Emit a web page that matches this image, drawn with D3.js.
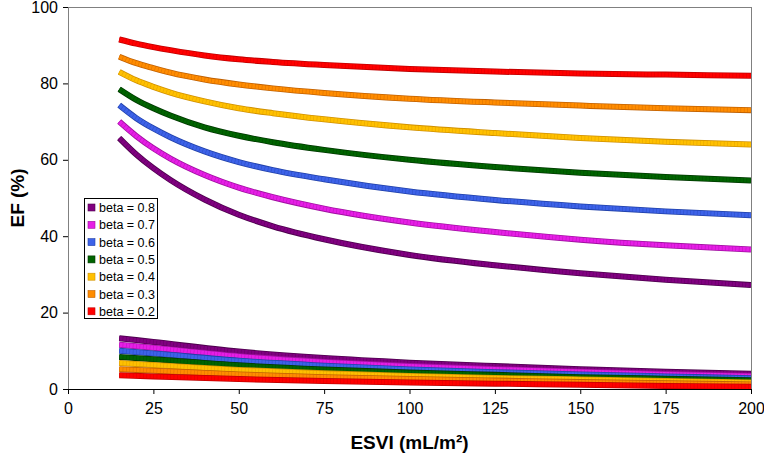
<!DOCTYPE html>
<html><head><meta charset="utf-8">
<script src="https://cdn.jsdelivr.net/npm/d3@7"></script>
<style>body{margin:0;background:#fff}svg{display:block}text{font-family:"Liberation Sans",Arial,sans-serif}</style>
</head><body><svg id="c" width="764" height="456"></svg>
<script>
const betas = ["0.8","0.7","0.6","0.5","0.4","0.3","0.2"];
const colors = ["#800080","#e61ee6","#3d62e8","#006400","#ffc000","#ff8c00","#ff0000"];
const edges  = ["#4d004d","#a010a0","#2040a8","#003800","#d09000","#c06000","#c00000"];
const xTicks = [0,25,50,75,100,125,150,175,200];
const yTicks = [0,20,40,60,80,100];
// upper curves: EF at ESVI samples
const esviUpper = [15,20,25,30,40,50,60,75,100,125,150,175,200];
const ef08 = [65.7,61.4,57.8,54.7,49.6,45.6,42.6,39.2,35.1,32.4,30.3,28.6,27.2];
const ef07 = [70.0,66.2,63.0,60.3,56.0,52.7,50.2,47.2,43.6,41.1,39.1,37.6,36.5];
const ef06 = [74.3,70.9,68.2,65.9,62.2,59.4,57.3,54.9,51.7,49.5,47.8,46.5,45.5];
const ef05 = [78.5,75.7,73.5,71.6,68.5,66.3,64.6,62.6,60.0,58.1,56.6,55.5,54.6];
const ef04 = [83.0,80.8,79.1,77.6,75.3,73.5,72.2,70.6,68.5,67.0,65.7,64.7,64.0];
const ef03 = [87.0,85.3,84.0,82.8,81.0,79.7,78.7,77.5,76.0,75.0,74.2,73.5,73.0];
const ef02 = [91.5,90.4,89.5,88.7,87.3,86.3,85.6,84.8,83.8,83.1,82.6,82.3,82.0];
// lower curves
const esviLower = [15,25,50,75,100,125,150,175,200];
const lo08 = [13.3,12.3,9.8,8.1,6.9,6.0,5.2,4.5,4.0];
const lo07 = [11.6,10.8,8.6,7.1,6.0,5.2,4.5,3.9,3.4];
const lo06 = [10.0,9.3,7.4,6.1,5.1,4.4,3.8,3.3,2.8];
const lo05 = [8.4,7.8,6.2,5.1,4.3,3.7,3.1,2.7,2.3];
const lo04 = [6.8,6.3,5.0,4.1,3.4,2.9,2.5,2.1,1.7];
const lo03 = [5.2,4.8,3.8,3.1,2.6,2.2,1.8,1.5,1.2];
const lo02 = [3.6,3.3,2.6,2.1,1.7,1.4,1.1,0.8,0.6];

const upper = [ef08,ef07,ef06,ef05,ef04,ef03,ef02];
const lower = [lo08,lo07,lo06,lo05,lo04,lo03,lo02];

const svg = d3.select("#c");
const L=68,R=751,T=7,B=389;
const x = d3.scaleLinear().domain([0,200]).range([L,R]);
const y = d3.scaleLinear().domain([0,100]).range([B,T]);

svg.append("defs").append("clipPath").attr("id","clip").append("rect")
  .attr("x",L).attr("y",T).attr("width",R-L).attr("height",B-T);

// plot border top/right
svg.append("line").attr("x1",L).attr("x2",R).attr("y1",T+0.5).attr("y2",T+0.5).attr("stroke","#808080");
svg.append("line").attr("x1",R+0.5).attr("x2",R+0.5).attr("y1",T).attr("y2",B).attr("stroke","#808080");

const line = d3.line().x(d=>x(d[0])).y(d=>y(d[1])).curve(d3.curveMonotoneX);
const g = svg.append("g").attr("clip-path","url(#clip)");
function drawSeries(xs, vals, i){
  const pts = xs.map((v,k)=>[v,vals[k]]);
  g.append("path").attr("d",line(pts)).attr("fill","none").attr("stroke",edges[i]).attr("stroke-width",6);
  g.append("path").attr("d",line(pts)).attr("fill","none").attr("stroke",colors[i]).attr("stroke-width",4.4);
  g.append("path").attr("d",line(pts)).attr("fill","none").attr("stroke",edges[i]).attr("stroke-opacity",0.45)
    .attr("stroke-width",4.4).attr("stroke-dasharray","0.7,2.7");
}
upper.forEach((s,i)=>drawSeries(esviUpper,s,i));
lower.forEach((s,i)=>drawSeries(esviLower,s,i));

// axes
const yAxis = svg.append("g").attr("transform",`translate(${L},0)`)
  .call(d3.axisLeft(y).tickValues(yTicks).tickSize(5).tickPadding(5));
yAxis.select(".domain").attr("stroke","#808080");
yAxis.selectAll(".tick line").attr("stroke","#000");
yAxis.selectAll("text").attr("font-size",16).attr("fill","#000");
const xAxis = svg.append("g").attr("transform",`translate(0,${B})`)
  .call(d3.axisBottom(x).tickValues(xTicks).tickSize(5).tickPadding(9));
xAxis.select(".domain").attr("stroke","#000");
xAxis.selectAll("text").attr("font-size",16).attr("fill","#000");

svg.append("text").attr("transform",`translate(24,${(T+B)/2}) rotate(-90)`).attr("text-anchor","middle")
  .attr("font-size",19).attr("font-weight","bold").text("EF (%)");
svg.append("text").attr("x",(L+R)/2).attr("y",449).attr("text-anchor","middle")
  .attr("font-size",19).attr("font-weight","bold").text("ESVI (mL/m²)");

// legend
const lg = svg.append("g");
lg.append("rect").attr("x",84.5).attr("y",198.5).attr("width",73).attr("height",120)
  .attr("fill","#fff").attr("stroke","#000");
betas.forEach((b,i)=>{
  const cy = 207.5 + i*17.3;
  lg.append("rect").attr("x",88).attr("y",cy-3.5).attr("width",7).attr("height",7)
    .attr("fill",colors[i]).attr("stroke",edges[i]).attr("stroke-width",0.6);
  lg.append("text").attr("x",99).attr("y",cy+4.5).attr("font-size",12.5).text("beta = "+b);
});
</script></body></html>
